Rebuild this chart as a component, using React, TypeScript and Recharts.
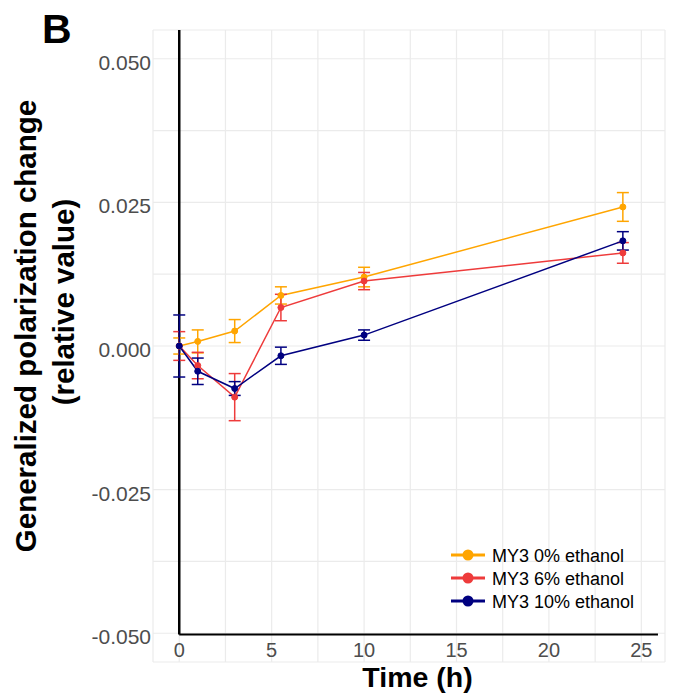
import React from 'react';
import { LineChart, Line, XAxis, YAxis, CartesianGrid, ErrorBar, ReferenceLine } from 'recharts';

const times = [0, 1, 3, 5.5, 10, 24];
const mean0 = [0, 0.0008, 0.0026, 0.0088, 0.012, 0.0242];
const err0 = [0.0014, 0.002, 0.002, 0.0015, 0.0017, 0.0025];
const mean6 = [0, -0.0034, -0.0089, 0.0067, 0.0113, 0.0162];
const err6 = [0.0025, 0.0023, 0.0041, 0.0023, 0.0015, 0.0018];
const mean10 = [0, -0.0044, -0.0074, -0.0017, 0.0019, 0.0183];
const err10 = [0.0054, 0.0023, 0.0012, 0.0015, 0.0009, 0.0016];

const seriesNames = ['MY3 0% ethanol', 'MY3 6% ethanol', 'MY3 10% ethanol'];
const seriesColors = ['#FFA500', '#EE3B3B', '#000080'];

const xGridTicks = [0, 2.5, 5, 7.5, 10, 12.5, 15, 17.5, 20, 22.5, 25];
const xLabelTicks = [0, 5, 10, 15, 20, 25];
const yGridTicks = [-0.05, -0.0375, -0.025, -0.0125, 0, 0.0125, 0.025, 0.0375, 0.05];
const yLabelTicks = [-0.05, -0.025, 0, 0.025, 0.05];

const data = times.map((t, i) => ({
  t,
  m0: mean0[i],
  e0: err0[i],
  m6: mean6[i],
  e6: err6[i],
  m10: mean10[i],
  e10: err10[i],
}));

const FONT = '"Liberation Sans", Arial, Helvetica, sans-serif';
const TICK_COLOR = '#4D4D4D';

const near = (v: number, arr: number[]) => arr.some((a) => Math.abs(a - v) < 1e-9);

const XTick = (props: any) => {
  const { x, y, payload } = props;
  if (!near(payload.value, xLabelTicks)) return null;
  return (
    <text x={x} y={y - 5} textAnchor="middle" fontSize={20} fill={TICK_COLOR} fontFamily={FONT}>
      {String(payload.value)}
    </text>
  );
};

const YTick = (props: any) => {
  const { x, y, payload } = props;
  if (!near(payload.value, yLabelTicks)) return null;
  return (
    <text x={x} y={y + 11} textAnchor="end" fontSize={21} fill={TICK_COLOR} fontFamily={FONT}>
      {payload.value.toFixed(3)}
    </text>
  );
};

const legendRows = [555, 578, 601];

export default function App() {
  const keys = [
    ['m0', 'e0'],
    ['m6', 'e6'],
    ['m10', 'e10'],
  ];
  return (
    <div style={{ position: 'absolute', left: 0, top: 0, width: 674, height: 700, background: '#fff' }}>
      <LineChart width={674} height={700} data={data} margin={{ top: 30, right: 9, bottom: 0, left: 0 }}>
        <CartesianGrid stroke="#EBEBEB" strokeWidth={1.2} />
        <XAxis
          dataKey="t"
          type="number"
          domain={[-1.42, 26.28]}
          ticks={xGridTicks}
          interval={0}
          allowDataOverflow
          height={38}
          axisLine={false}
          tickLine={false}
          tickSize={0}
          tickMargin={0}
          tick={<XTick />}
        />
        <YAxis
          type="number"
          domain={[-0.055, 0.055]}
          ticks={yGridTicks}
          interval={0}
          allowDataOverflow
          width={153}
          axisLine={false}
          tickLine={false}
          tickSize={0}
          tickMargin={2}
          tick={<YTick />}
        />
        <ReferenceLine
          segment={[
            { x: 0, y: -0.0502 },
            { x: 25.9, y: -0.0502 },
          ]}
          stroke="#000"
          strokeWidth={2}
          ifOverflow="visible"
        />
        <ReferenceLine
          segment={[
            { x: 0, y: -0.0502 },
            { x: 0, y: 0.055 },
          ]}
          stroke="#000"
          strokeWidth={2.5}
          ifOverflow="visible"
        />
        {keys.map(([m, e], i) => (
          <Line
            key={m}
            dataKey={m}
            name={seriesNames[i]}
            type="linear"
            stroke={seriesColors[i]}
            strokeWidth={1.5}
            dot={{ r: 3, fill: seriesColors[i], stroke: seriesColors[i], strokeWidth: 1 }}
            activeDot={false}
            isAnimationActive={false}
          >
            <ErrorBar dataKey={e} width={6} stroke={seriesColors[i]} strokeWidth={1.5} direction="y" />
          </Line>
        ))}
      </LineChart>
      <svg
        width={674}
        height={700}
        style={{ position: 'absolute', left: 0, top: 0, pointerEvents: 'none' }}
        fontFamily={FONT}
      >
        <text x={42} y={43} fontSize={41} fontWeight="bold" fill="#000">
          B
        </text>
        <text x={417.5} y={687} fontSize={28.5} fontWeight="bold" fill="#000" textAnchor="middle">
          Time (h)
        </text>
        <text
          x={36}
          y={326}
          fontSize={29.5}
          fontWeight="bold"
          fill="#000"
          textAnchor="middle"
          transform="rotate(-90 36 326)"
        >
          Generalized polarization change
        </text>
        <text
          x={74}
          y={302}
          fontSize={29.5}
          fontWeight="bold"
          fill="#000"
          textAnchor="middle"
          transform="rotate(-90 74 302)"
        >
          (relative value)
        </text>
        {seriesNames.map((n, i) => (
          <g key={n}>
            <line x1={451} x2={485} y1={legendRows[i]} y2={legendRows[i]} stroke={seriesColors[i]} strokeWidth={3} />
            <circle cx={468} cy={legendRows[i]} r={5.5} fill={seriesColors[i]} />
            <text x={492} y={legendRows[i] + 6.5} fontSize={18} fill="#000">
              {n}
            </text>
          </g>
        ))}
      </svg>
    </div>
  );
}
